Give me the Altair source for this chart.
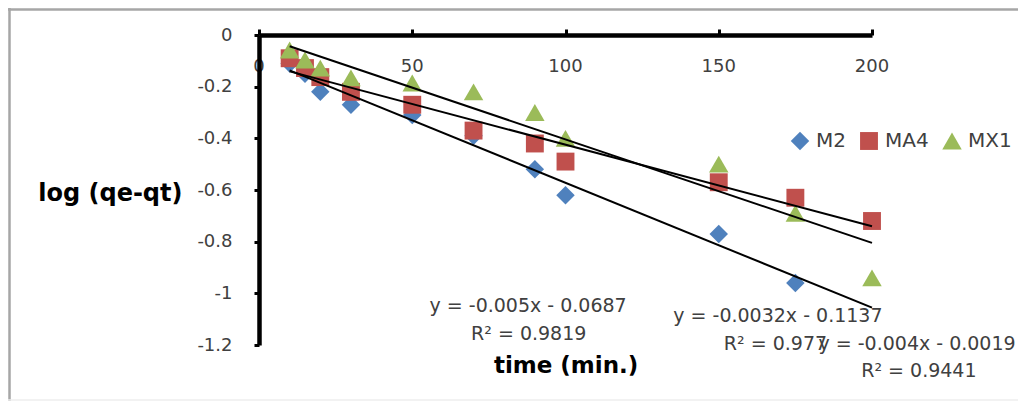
import altair as alt
import pandas as pd

# ---- data ----
times = [10, 15, 20, 30, 50, 70, 90, 100, 150, 175, 200]
m2 = [-0.11, -0.15, -0.22, -0.27, -0.31, -0.39, -0.52, -0.62, -0.77, -0.96, None]
ma4 = [-0.09, -0.128, -0.163, -0.22, -0.27, -0.37, -0.42, -0.49, -0.57, -0.63, -0.72]
mx1 = [-0.058, -0.097, -0.128, -0.166, -0.186, -0.22, -0.30, -0.40, -0.50, -0.69, -0.94]
series_names = ["M2", "MA4", "MX1"]
series_colors = ["#4F81BD", "#C0504D", "#9BBB59"]
series_shapes = ["diamond", "square", "triangle-up"]
series_sizes = [340, 320, 380]

x_ticks = [0, 50, 100, 150, 200]
y_ticks = [0, -0.2, -0.4, -0.6, -0.8, -1, -1.2]

eq_text = ["y = -0.005x - 0.0687", "R² = 0.9819",
           "y = -0.0032x - 0.1137", "R² = 0.977",
           "y = -0.004x - 0.0019", "R² = 0.9441"]
eq_x = [87.8, 88.0, 169.3, 168.5, 214.7, 215.3]
eq_y = [-1.049, -1.158, -1.088, -1.196, -1.196, -1.30]

x_title = "time (min.)"
y_title = "log (qe-qt)"

# ---- tables ----
rows = []
for name, vals in zip(series_names, [m2, ma4, mx1]):
    for t, v in zip(times, vals):
        if v is not None:
            rows.append({"time": t, "value": v, "series": name})
pts = pd.DataFrame(rows)
xlab = pd.DataFrame({"time": x_ticks, "value": [0] * len(x_ticks),
                     "label": [str(v) for v in x_ticks]})
eqs = pd.DataFrame({"time": eq_x, "value": eq_y, "label": eq_text})
xt = pd.DataFrame({"time": [100.2], "value": [-1.281], "label": [x_title]})

FONT = "DejaVu Sans"
GRAY = "#404040"

X = alt.X("time:Q", scale=alt.Scale(domain=[0, 200], nice=False, zero=False),
          axis=alt.Axis(orient="top", values=x_ticks, labels=False, title=None,
                        domainColor="black", domainWidth=4.5, tickColor="black",
                        tickWidth=3, tickSize=6, grid=False, zindex=1))
Y = alt.Y("value:Q", scale=alt.Scale(domain=[-1.2, 0], nice=False, zero=False),
          axis=alt.Axis(values=y_ticks, labelExpr="'' + datum.value",
                        labelFont=FONT, labelFontSize=18, labelColor=GRAY,
                        labelPadding=22, tickSize=5, tickWidth=3, tickColor="black",
                        domainColor="black", domainWidth=4.5, grid=False, zindex=1,
                        title=y_title, titleAngle=0, titleAlign="right",
                        titleBaseline="middle", titleX=-77, titleY=158,
                        titleFont=FONT, titleFontSize=24, titleFontWeight="bold",
                        titleColor="black"))

leg = dict(title=None, orient="none", direction="horizontal",
           legendX=531, legendY=96, labelFont=FONT, labelFontSize=20,
           labelColor=GRAY, symbolSize=170, labelOffset=6, columnPadding=13,
           symbolStrokeWidth=0, symbolOpacity=1)

points = alt.Chart(pts).mark_point(filled=True, opacity=1).encode(
    x=X, y=Y,
    color=alt.Color("series:N", scale=alt.Scale(domain=series_names, range=series_colors),
                    legend=alt.Legend(**leg)),
    shape=alt.Shape("series:N", scale=alt.Scale(domain=series_names, range=series_shapes),
                    legend=alt.Legend(**leg)),
    size=alt.Size("series:N", scale=alt.Scale(type="ordinal", domain=series_names,
                                              range=series_sizes),
                  legend=None),
    order=alt.Order("series:N"),
)

trend = alt.Chart(pts).transform_regression(
    "time", "value", groupby=["series"], extent=[10, 200]
).mark_line(color="black", strokeWidth=2).encode(
    x=X, y=Y, detail="series:N",
)

xlabels = alt.Chart(xlab).mark_text(font=FONT, fontSize=18, color=GRAY, dy=32,
                                    baseline="middle", align="center").encode(
    x=X, y=Y, text="label:N",
)

eqlabels = alt.Chart(eqs).mark_text(font=FONT, fontSize=19, color=GRAY,
                                    baseline="middle", align="center").encode(
    x=X, y=Y, text="label:N",
)

xtitle = alt.Chart(xt).mark_text(font=FONT, fontSize=23, fontWeight="bold", color="black",
                                 baseline="middle", align="center").encode(
    x=X, y=Y, text="label:N",
)

frame_top = alt.Chart(pd.DataFrame({"a": [0]})).mark_rule(color="#A6A6A6", strokeWidth=2.5).encode(
    x=alt.value(-251), x2=alt.value(760), y=alt.value(-25.5))
frame_left = alt.Chart(pd.DataFrame({"a": [0]})).mark_rule(color="#A6A6A6", strokeWidth=2.5).encode(
    x=alt.value(-249.5), y=alt.value(-27), y2=alt.value(366))
frame_bottom = alt.Chart(pd.DataFrame({"a": [0]})).mark_rule(color="#EEEEEE", strokeWidth=1.5).encode(
    x=alt.value(-251), x2=alt.value(760), y=alt.value(365))

chart = alt.layer(points, trend, xlabels, eqlabels, xtitle, frame_top, frame_left, frame_bottom).properties(
    width=613, height=310,
    padding={"left": 251, "top": 27, "right": 146, "bottom": 56},
    autosize=alt.AutoSizeParams(type="none"),
    background="white",
).configure_view(stroke=None).configure_axis(
    domainWidth=4.5, domainColor="black", tickWidth=3, tickColor="black"
)

chart.save("out.html", embed_options={"renderer": "svg", "actions": False})
